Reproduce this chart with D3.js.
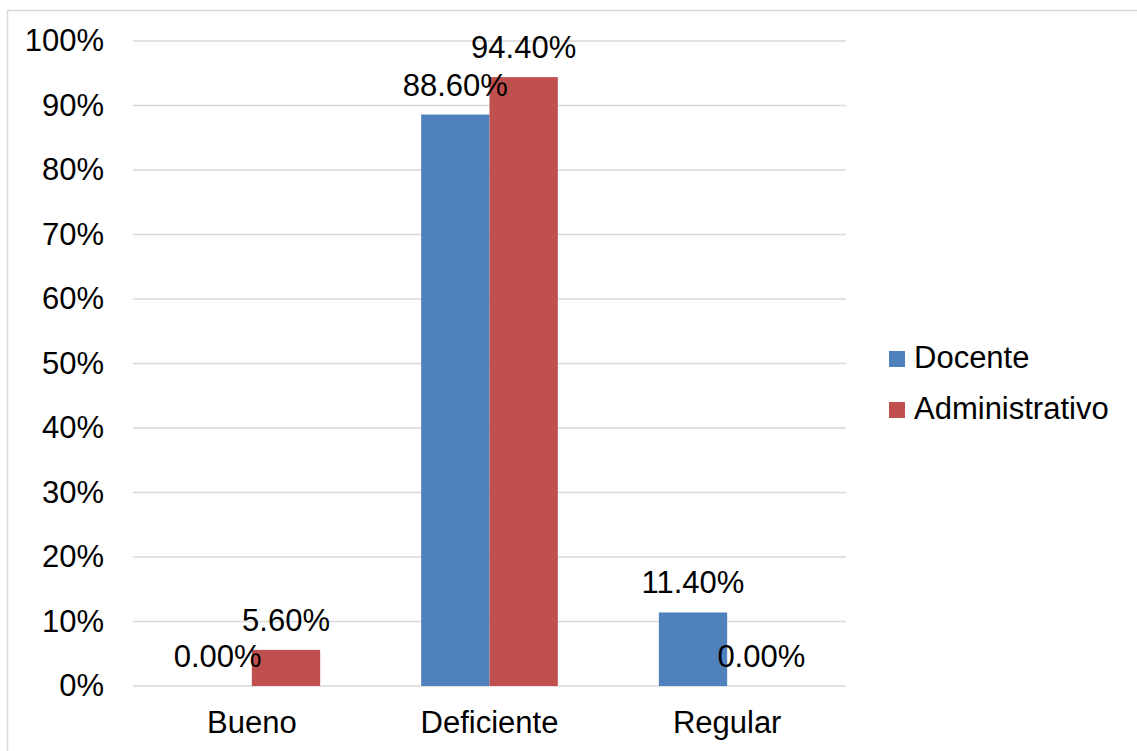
<!DOCTYPE html>
<html>
<head>
<meta charset="utf-8">
<script src="https://cdn.jsdelivr.net/npm/d3@7"></script>
<style>
  html, body { margin: 0; padding: 0; background: #fff; }
  svg { display: block; font-family: "Liberation Sans", Arial, sans-serif; }
</style>
</head>
<body>
<svg id="chart" width="1137" height="751"></svg>
<script>
// Categories, series and values (percent)
const categories = ["Bueno", "Deficiente", "Regular"];
const seriesNames = ["Docente", "Administrativo"];
const docente = [0.0, 88.6, 11.4];
const administrativo = [5.6, 94.4, 0.0];
const yTicks = [0, 10, 20, 30, 40, 50, 60, 70, 80, 90, 100];
const seriesColors = ["#4F81BD", "#C0504D"];

const seriesValues = [docente, administrativo];
const rows = categories.map((c, i) => ({
  category: c,
  values: seriesNames.map((s, k) => ({ series: s, k, value: seriesValues[k][i] }))
}));

const svg = d3.select("#chart");
const W = 1137, H = 751;
const fontSize = 31;

// Chart frame
svg.append("rect")
  .attr("x", 7.5).attr("y", 10.5)
  .attr("width", W + 10).attr("height", H + 10)
  .attr("fill", "none")
  .attr("stroke", "#d9d9d9")
  .attr("stroke-width", 1.5);

const plot = { left: 133, right: 846, top: 41, bottom: 686 };

const x0 = d3.scaleBand()
  .domain(categories)
  .range([plot.left, plot.right])
  .padding(0);

const x1 = d3.scaleBand()
  .domain(seriesNames)
  .range([50.5, x0.bandwidth() - 50.5])
  .padding(0);

const y = d3.scaleLinear()
  .domain([0, 100])
  .range([plot.bottom, plot.top]);

// Gridlines
svg.append("g")
  .selectAll("line")
  .data(yTicks)
  .join("line")
  .attr("x1", plot.left).attr("x2", plot.right)
  .attr("y1", d => y(d)).attr("y2", d => y(d))
  .attr("stroke", "#d9d9d9")
  .attr("stroke-width", 1.5);

// Y axis labels
const yAxis = d3.axisLeft(y)
  .tickValues(yTicks)
  .tickFormat(d => d + "%")
  .tickSize(0)
  .tickPadding(29);
const gy = svg.append("g")
  .attr("transform", `translate(${plot.left},0)`)
  .call(yAxis);
gy.select(".domain").remove();
gy.selectAll("text")
  .attr("font-size", fontSize)
  .attr("font-family", "Liberation Sans, Arial, sans-serif")
  .attr("fill", "#000");

// X axis labels
const xAxis = d3.axisBottom(x0).tickSize(0).tickPadding(25);
const gx = svg.append("g")
  .attr("transform", `translate(0,${plot.bottom})`)
  .call(xAxis);
gx.select(".domain").remove();
gx.selectAll("text")
  .attr("font-size", fontSize)
  .attr("font-family", "Liberation Sans, Arial, sans-serif")
  .attr("fill", "#000");

// Bars
const groups = svg.append("g")
  .selectAll("g")
  .data(rows)
  .join("g")
  .attr("transform", d => `translate(${x0(d.category)},0)`);

groups.selectAll("rect")
  .data(d => d.values)
  .join("rect")
  .attr("x", d => x1(d.series))
  .attr("width", x1.bandwidth())
  .attr("y", d => y(d.value))
  .attr("height", d => y(0) - y(d.value))
  .attr("fill", d => seriesColors[d.k]);

// Value labels
groups.selectAll("text")
  .data(d => d.values)
  .join("text")
  .attr("x", d => x1(d.series) + x1.bandwidth() / 2)
  .attr("y", d => y(d.value) - 19)
  .attr("text-anchor", "middle")
  .attr("font-size", fontSize)
  .attr("fill", "#000")
  .text(d => d.value.toFixed(2) + "%");

// Legend
const legend = svg.append("g")
  .selectAll("g")
  .data(seriesNames)
  .join("g")
  .attr("transform", (d, i) => `translate(889,${351 + i * 51})`);

legend.append("rect")
  .attr("width", 16).attr("height", 16)
  .attr("fill", (d, i) => seriesColors[i]);

legend.append("text")
  .attr("x", 25)
  .attr("y", 16.5)
  .attr("font-size", fontSize)
  .attr("fill", "#000")
  .text(d => d);
</script>
</body>
</html>
